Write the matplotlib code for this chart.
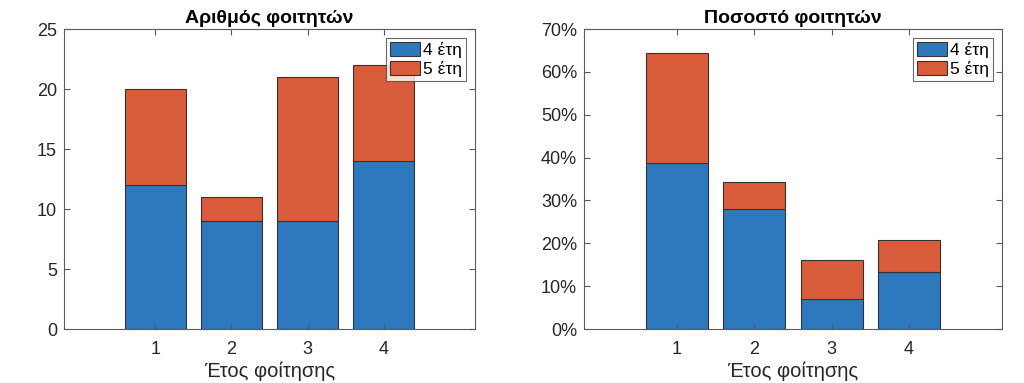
import numpy as np
import matplotlib
matplotlib.use('Agg')
import matplotlib.pyplot as plt
from matplotlib.ticker import PercentFormatter

plt.rcParams['font.family'] = ['Liberation Sans', 'DejaVu Sans']

years = [1, 2, 3, 4]
labels = ['4 έτη', '5 έτη']

# number of students
count_4 = [12, 9, 9, 14]
count_5 = [8, 2, 12, 8]

# percentage of students
pct_4 = [38.7, 28.1, 6.9, 13.2]
pct_5 = [25.8, 6.3, 9.3, 7.6]

blue = '#2e78be'
orange = '#d95d3b'
axis_col = '#5a5a5a'


def stacked(ax, a, b, title):
    ax.bar(years, a, width=0.8, color=blue, edgecolor='#333333', linewidth=0.8, label=labels[0])
    ax.bar(years, b, width=0.8, bottom=a, color=orange, edgecolor='#333333', linewidth=0.8,
           label=labels[1])
    ax.set_xlim(-0.2, 5.2)
    ax.set_xticks(years)
    ax.set_title(title, fontsize=14, fontweight='bold', pad=4)
    ax.set_xlabel('Έτος φοίτησης', fontsize=14.5, color='#262626', labelpad=2)
    ax.tick_params(direction='in', top=True, right=True, length=4, width=0.8,
                   colors=axis_col, labelcolor='#262626', labelsize=13)
    ax.tick_params(axis='x', pad=9)
    ax.tick_params(axis='y', pad=5)
    for s in ax.spines.values():
        s.set_color(axis_col)
        s.set_linewidth(0.8)
    leg = ax.legend(loc='upper right', fontsize=12.5, frameon=True, fancybox=False,
                    handlelength=1.75, handleheight=0.9, handletextpad=0.15,
                    borderpad=0.25, labelspacing=0.15, borderaxespad=0.5)
    leg.get_frame().set_edgecolor('#444444')
    leg.get_frame().set_linewidth(0.8)


fig = plt.figure(figsize=(10.24, 3.83), dpi=100)
ax1 = fig.add_axes([64 / 1024, 1 - 329 / 383, 411 / 1024, 300 / 383])
ax2 = fig.add_axes([584 / 1024, 1 - 329 / 383, 418 / 1024, 300 / 383])

stacked(ax1, np.array(count_4), np.array(count_5), 'Αριθμός φοιτητών')
ax1.set_ylim(0, 25)
ax1.set_yticks([0, 5, 10, 15, 20, 25])

stacked(ax2, np.array(pct_4), np.array(pct_5), 'Ποσοστό φοιτητών')
ax2.set_ylim(0, 70)
ax2.set_yticks(np.arange(0, 71, 10))
ax2.yaxis.set_major_formatter(PercentFormatter(decimals=0))

fig.savefig('out.png', dpi=100)
